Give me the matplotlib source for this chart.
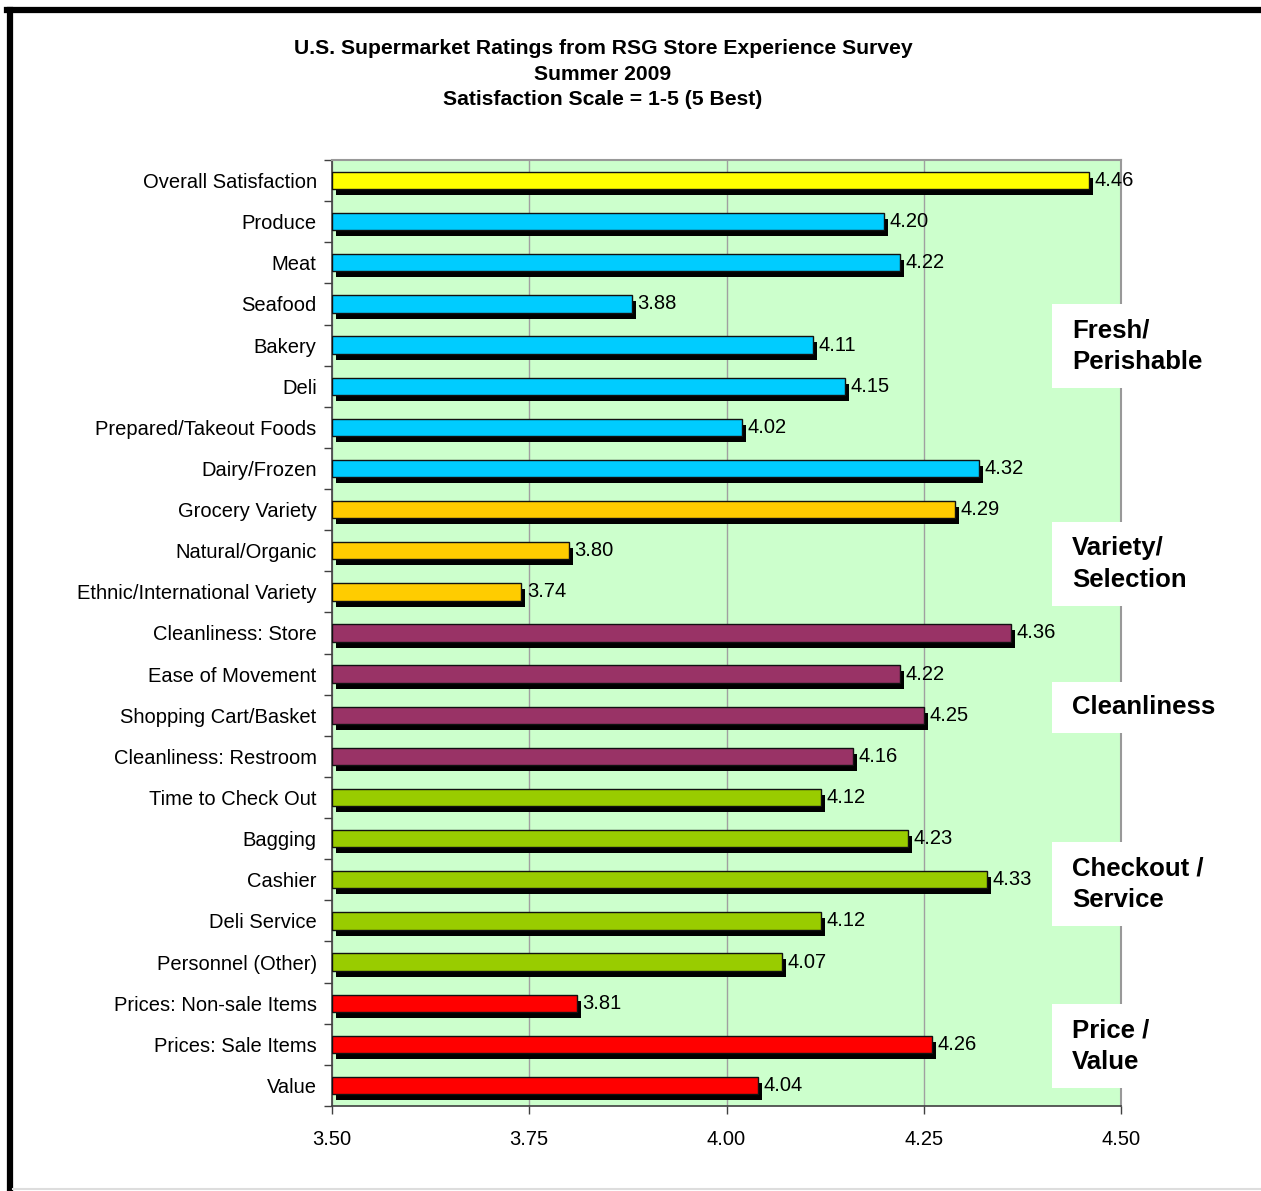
import matplotlib.pyplot as plt
from matplotlib.patches import Rectangle
from matplotlib.transforms import ScaledTranslation
from matplotlib.lines import Line2D

plt.rcParams["font.family"] = ["Liberation Sans", "DejaVu Sans"]

categories = ["Overall Satisfaction", "Produce", "Meat", "Seafood", "Bakery", "Deli",
              "Prepared/Takeout Foods", "Dairy/Frozen", "Grocery Variety",
              "Natural/Organic", "Ethnic/International Variety", "Cleanliness: Store",
              "Ease of Movement", "Shopping Cart/Basket", "Cleanliness: Restroom",
              "Time to Check Out", "Bagging", "Cashier", "Deli Service",
              "Personnel (Other)", "Prices: Non-sale Items", "Prices: Sale Items", "Value"]
values = [4.46, 4.20, 4.22, 3.88, 4.11, 4.15, 4.02, 4.32, 4.29, 3.80, 3.74, 4.36,
          4.22, 4.25, 4.16, 4.12, 4.23, 4.33, 4.12, 4.07, 3.81, 4.26, 4.04]
groups = ["overall"] + ["fresh"] * 7 + ["variety"] * 3 + ["clean"] * 4 + ["checkout"] * 5 + ["price"] * 3
group_colors = {"overall": "#FFFF00", "fresh": "#00CCFF", "variety": "#FFCC00",
                "clean": "#993366", "checkout": "#99CC00", "price": "#FF0000"}
group_labels = ["Fresh/\nPerishable", "Variety/\nSelection", "Cleanliness",
                "Checkout /\nService", "Price /\nValue"]
# label boxes in pixel rows (top, bottom)
label_boxes = [(304, 388), (522, 606), (682, 733), (842, 926), (1004, 1088)]
xticks = [3.50, 3.75, 4.00, 4.25, 4.50]

W, H = 1261, 1191
fig = plt.figure(figsize=(W / 100, H / 100), dpi=100)
ax = fig.add_axes([332 / W, 1 - 1106 / H, (1121 - 332) / W, (1106 - 160) / H])
ax.set_facecolor("#CCFFCC")

n = len(categories)
ypos = list(range(n))
colors = [group_colors[g] for g in groups]
bh = 0.42

# drop shadow, shifted right and down
shadow = ax.transData + ScaledTranslation(4 / 100, -6 / 100, fig.dpi_scale_trans)
ax.barh(ypos, [v - 3.5 for v in values], left=3.5, height=bh, color="black",
        transform=shadow, zorder=2)
ax.barh(ypos, [v - 3.5 for v in values], left=3.5, height=bh, color=colors,
        edgecolor="#111111", linewidth=1.0, zorder=3)

for y, v in zip(ypos, values):
    ax.annotate(f"{v:.2f}", (v, y), xytext=(4, 0), textcoords="offset points",
                va="center", ha="left", fontsize=14.5, zorder=4)

ax.set_xlim(3.5, 4.5)
ax.set_ylim(n - 0.5, -0.5)
ax.set_xticks(xticks)
ax.set_xticklabels([f"{t:.2f}" for t in xticks], fontsize=14.5)
ax.set_yticks(ypos)
ax.set_yticklabels(categories, fontsize=14.5)
ax.tick_params(axis="y", length=0, pad=11)
ax.set_yticks([i - 0.5 for i in range(n + 1)], minor=True)
ax.tick_params(axis="y", which="minor", length=6, width=1, color="#404040")
ax.tick_params(axis="x", length=6, width=1, color="#404040", pad=11)
ax.grid(axis="x", color="#A0A0A0", linewidth=1, zorder=1)
ax.set_axisbelow(True)
for s in ["top", "right"]:
    ax.spines[s].set_color("#999999")
    ax.spines[s].set_linewidth(1.5)
for s in ["left", "bottom"]:
    ax.spines[s].set_color("#404040")
    ax.spines[s].set_linewidth(1.2)

fig.text(603 / W, 1 - 74 / H, "U.S. Supermarket Ratings from RSG Store Experience Survey\n"
         "Summer 2009\nSatisfaction Scale = 1-5 (5 Best)", ha="center", va="center",
         fontsize=15.2, fontweight="bold", linespacing=1.45)

for lab, (top, bot) in zip(group_labels, label_boxes):
    fig.patches.append(Rectangle((1052 / W, 1 - bot / H), (1230 - 1052) / W, (bot - top) / H,
                                 transform=fig.transFigure, facecolor="white",
                                 edgecolor="none", zorder=5))
    fig.text(1072 / W, 1 - (top + bot) / 2 / H, lab, ha="left", va="center",
             fontsize=18.5, fontweight="bold", linespacing=1.42, zorder=6)

# outer frame
fig.lines.append(Line2D([10 / W, 10 / W], [1 - 1188 / H, 1 - 10 / H], transform=fig.transFigure,
                        color="black", linewidth=4.5))
fig.lines.append(Line2D([7 / W, 1], [1 - 10 / H, 1 - 10 / H], transform=fig.transFigure,
                        color="black", linewidth=4.5))
fig.lines.append(Line2D([13 / W, 1], [1 - 1189 / H, 1 - 1189 / H], transform=fig.transFigure,
                        color="#DDDDDD", linewidth=1.5))

fig.savefig("out.png", dpi=100)
